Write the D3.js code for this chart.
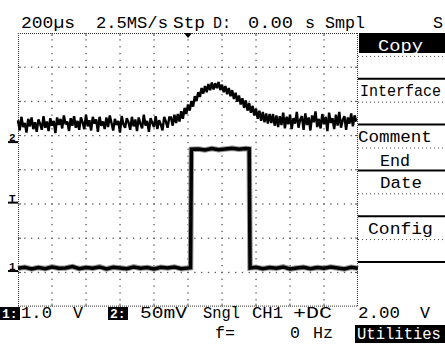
<!DOCTYPE html>
<html>
<head>
<meta charset="utf-8">
<script src="https://cdn.jsdelivr.net/npm/d3@7"></script>
<style>
  html, body { margin: 0; padding: 0; background: #fff; }
  svg { display: block; }
  text { font-family: "Liberation Mono", monospace; font-size: 17px; fill: #000; }
</style>
</head>
<body>
<svg id="scope" width="445" height="345"></svg>
<script>
// CH1: square pulse, volts against time in µs
const ch1Time = [0,40,80,120,160,200,240,280,320,360,400,440,480,520,560,600,640,680,720,760,800,840,880,920,960,1000,
  1015,1020,1060,1100,1140,1180,1220,1260,1300,1340,1360,1365,
  1400,1440,1480,1520,1560,1600,1640,1680,1720,1760,1800,1840,1880,1920,1960,2000];
const ch1Volt = [0.08,0.11,0.06,0.10,0.07,0.12,0.08,0.09,0.13,0.07,0.10,0.08,0.12,0.06,0.11,0.09,0.07,0.12,0.08,0.10,0.06,0.11,0.09,0.12,0.07,0.09,
  0.10,3.56,3.57,3.54,3.58,3.55,3.57,3.59,3.56,3.58,3.57,0.09,
  0.11,0.07,0.10,0.08,0.12,0.06,0.09,0.11,0.07,0.10,0.08,0.12,0.09,0.06,0.11,0.08];

// CH2: one sample every 10 µs, millivolts
const ch2Step = 10;
const ch2Volt = [
  32,17,37,22,28,14,34,23,36,19,29,15,33,27,18,38,21,30,16,35,
  24,31,13,36,25,
  34,20,39,26,30,16,35,24,38,21,31,18,36,29,19,40,23,32,17,37,
  27,33,15,37,24,30,19,36,22,39,28,17,34,25,31,14,38,26,21,35,
  29,18,37,23,33,16,36,27,20,40,24,31,15,35,28,22,38,19,32,26,17,37,30,21,36,
  36,24,40,28,41,30,45,34,50,41,
  55,46,60,52,67,60,73,66,79,71,
  82,73,85,76,87,77,86,79,88,76,
  84,73,82,70,79,67,76,63,72,59,
  68,55,64,50,61,46,57,43,53,39,
  49,34,46,31,44,29,42,27,41,28,
  41,24,39,22,38,25,43,20,37,26,
  40,19,35,27,44,21,33,38,18,42,25,36,17,39,29,45,22,34,20,41,
  26,37,16,43,28,35,19,40,24,44,21,32,38,18,36,27,42,23,39,30
];

const ch1VoltsPerDiv = 1.0;
const ch2MvPerDiv = 50;
const trigLevel = 2.0;

const headerLabels = ["200µs", "2.5MS/s", "Stp", "D:", "0.00", "s", "Smpl", "S"];
const footerLabels = ["1.0", "V", "50mV", "Sngl", "CH1", "+DC", "2.00", "V", "f=", "0", "Hz"];
const menuTop = ["Copy", "Interface", "Comment", "Date", "Config"];
const menuBottom = ["", "", "End", "", ""];

// layout
const gx0 = 18, gx1 = 358, gy0 = 33, divH = 34.2;
const gy1 = gy0 + 8 * divH;
const ch1Pos = -2.96, ch2Pos = 0.81;   // ground offsets in divisions from centre

const svg = d3.select("#scope");

const x = d3.scaleLinear().domain([0, 2000]).range([gx0, gx1]);
const divX = d3.scaleLinear().domain([0, 10]).range([gx0, gx1]);
const divY = d3.scaleLinear().domain([4, -4]).range([gy0, gy1]);
const y1 = d3.scaleLinear().domain([0, ch1VoltsPerDiv]).range([divY(ch1Pos), divY(ch1Pos + 1)]);
const y2 = d3.scaleLinear().domain([0, ch2MvPerDiv]).range([divY(ch2Pos), divY(ch2Pos + 1)]);

// graticule dots
const grid = svg.append("g").attr("fill", "#555");
d3.range(1, 10).forEach(k => {
  d3.range(1, 40).forEach(j => {
    grid.append("rect").attr("x", divX(k) - 0.6).attr("y", divY(-4 + j / 5) - 0.6)
      .attr("width", 1.3).attr("height", 1.3);
  });
});
d3.range(-3, 4).forEach(k => {
  d3.range(1, 50).forEach(j => {
    grid.append("rect").attr("x", divX(j / 5) - 0.6).attr("y", divY(k) - 0.6)
      .attr("width", 1.3).attr("height", 1.3);
  });
});

// border
const border = svg.append("g").attr("stroke", "#333").attr("stroke-width", 1).attr("stroke-dasharray", "1 1");
border.append("line").attr("x1", gx0).attr("x2", gx1).attr("y1", gy0 + 0.5).attr("y2", gy0 + 0.5);
border.append("line").attr("x1", gx0).attr("x2", gx1).attr("y1", gy1 - 0.5).attr("y2", gy1 - 0.5);
border.append("line").attr("x1", gx0 + 0.5).attr("x2", gx0 + 0.5).attr("y1", gy0).attr("y2", gy1);
border.append("line").attr("x1", gx1 - 0.5).attr("x2", gx1 - 0.5).attr("y1", gy0).attr("y2", gy1);

// small ticks on the border at each division
const ticks = svg.append("g").attr("stroke", "#444").attr("stroke-width", 1);
d3.range(1, 10).forEach(k => {
  ticks.append("line").attr("x1", divX(k)).attr("x2", divX(k)).attr("y1", gy0).attr("y2", gy0 + 3);
  ticks.append("line").attr("x1", divX(k)).attr("x2", divX(k)).attr("y1", gy1 - 3).attr("y2", gy1);
});
d3.range(-3, 4).forEach(k => {
  ticks.append("line").attr("x1", gx0).attr("x2", gx0 + 3).attr("y1", divY(k)).attr("y2", divY(k));
  ticks.append("line").attr("x1", gx1 - 3).attr("x2", gx1).attr("y1", divY(k)).attr("y2", divY(k));
});

// trigger position marker
svg.append("path")
  .attr("d", d3.line()([[x(1000) - 4, gy0], [x(1000) + 4, gy0], [x(1000), gy0 + 5]]) + "Z")
  .attr("fill", "#000");

// ground / trigger markers
function marker(label, yy) {
  svg.append("line").attr("x1", 8).attr("x2", gx0).attr("y1", yy).attr("y2", yy)
    .attr("stroke", "#000").attr("stroke-width", 2);
  svg.append("text").attr("x", 9).attr("y", yy - 1)
    .style("font-size", "11px").style("font-weight", "bold").text(label);
}
marker("2", y2(0));
marker("T", y1(trigLevel));
marker("1", y1(0));

// traces
const ch1Line = d3.line().x((d, i) => x(ch1Time[i])).y(d => y1(d));
svg.append("path").datum(ch1Volt).attr("d", ch1Line)
  .attr("fill", "none").attr("stroke", "#999").attr("stroke-width", 5.5);
svg.append("path").datum(ch1Volt).attr("d", ch1Line)
  .attr("fill", "none").attr("stroke", "#000").attr("stroke-width", 3.5);

const ch2Line = d3.line().x((d, i) => x(i * ch2Step)).y(d => y2(d));
svg.append("path").datum(ch2Volt).attr("d", ch2Line)
  .attr("fill", "none").attr("stroke", "#000").attr("stroke-width", 2.4)
  .attr("stroke-linejoin", "miter").attr("stroke-miterlimit", 2);

// text helper: squeeze the glyphs horizontally to the width the screen shows
function label(str, x0, yb, w, inverse) {
  if (inverse) {
    svg.append("rect").attr("x", inverse[0]).attr("y", inverse[1])
      .attr("width", inverse[2]).attr("height", inverse[3]).attr("fill", "#000");
  }
  const t = svg.append("text").attr("x", 0).attr("y", 0)
    .style("fill", inverse ? "#fff" : "#000").text(str);
  const natural = t.node().getComputedTextLength();
  t.attr("transform", `translate(${x0},${yb}) scale(${w / natural},1)`);
}

// header
const headerX = [[21, 54], [96, 72], [173, 32], [213, 18], [248, 45], [305, 10], [325, 40], [433, 10]];
headerLabels.forEach((t, i) => label(t, headerX[i][0], 28, headerX[i][1]));

// footer
svg.append("rect").attr("x", 0).attr("y", 307).attr("width", 20).attr("height", 13).attr("fill", "#000");
svg.append("text").attr("x", 2).attr("y", 318).style("font-size", "13px").style("font-weight", "bold")
  .style("fill", "#fff").text("1:");
svg.append("rect").attr("x", 108).attr("y", 307).attr("width", 20).attr("height", 13).attr("fill", "#000");
svg.append("text").attr("x", 110).attr("y", 318).style("font-size", "13px").style("font-weight", "bold")
  .style("fill", "#fff").text("2:");
const footerX = [[21, 31, 318], [73, 10, 318], [140, 47, 318], [203, 37, 318], [252, 31, 318], [293, 39, 318],
  [358, 42, 318], [420, 10, 318], [215, 20, 338], [290, 10, 338], [313, 20, 338]];
footerLabels.forEach((t, i) => label(t, footerX[i][0], footerX[i][2], footerX[i][1]));
label("Utilities", 357, 339, 84, [355, 325, 90, 18]);

// menu
const menuX0 = gx1, menuTop0 = gy0, btnH = 45.8;
const menu = svg.append("g");
menuTop.forEach((t, i) => {
  const top = menuTop0 + i * btnH;
  menu.append("line").attr("x1", menuX0).attr("x2", 445).attr("y1", top + btnH).attr("y2", top + btnH)
    .attr("stroke", "#000").attr("stroke-width", 2);
  menu.append("line").attr("x1", menuX0).attr("x2", 445).attr("y1", top + btnH / 2 + 0.5).attr("y2", top + btnH / 2 + 0.5)
    .attr("stroke", "#444").attr("stroke-width", 1).attr("stroke-dasharray", "1 3");
});
const menuTopX = [[378, 45], [360, 81], [358, 74], [380, 42], [368, 65]];
menuTop.forEach((t, i) => {
  const top = menuTop0 + i * btnH;
  label(t, menuTopX[i][0], top + 17.5, menuTopX[i][1], i === 0 ? [menuX0 + 1, top, 445 - menuX0, 20] : null);
});
menuBottom.forEach((t, i) => {
  if (!t) return;
  const top = menuTop0 + i * btnH;
  label(t, 380, top + 41.5, 30);
});
</script>
</body>
</html>
